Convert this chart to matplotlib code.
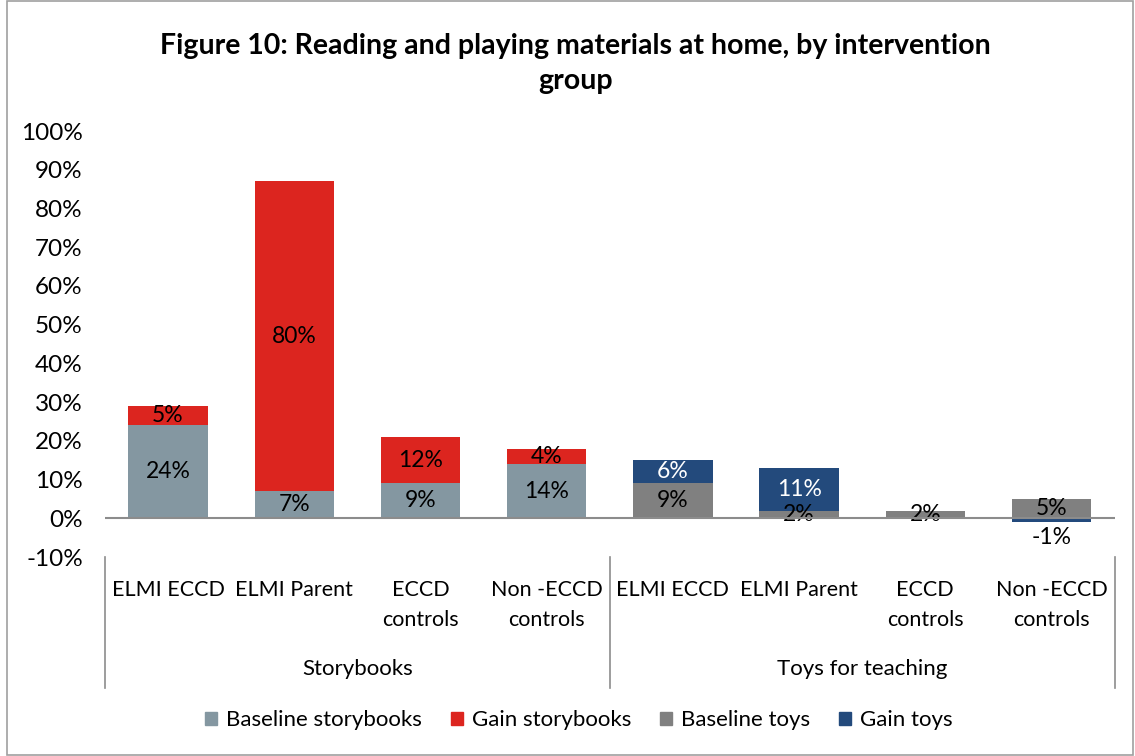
import numpy as np
import matplotlib.pyplot as plt
from matplotlib.patches import Rectangle
from matplotlib.lines import Line2D

plt.rcParams['font.family'] = ['Lato', 'DejaVu Sans']

categories = [['ELMI ECCD'], ['ELMI Parent'], ['ECCD', 'controls'], ['Non -ECCD', 'controls']]
groups = ['Storybooks', 'Toys for teaching']
base_books = [24, 7, 9, 14]
gain_books = [5, 80, 12, 4]
base_toys = [9, 2, 2, 5]
gain_toys = [6, 11, 0, -1]

c_base_books = '#8497A1'
c_gain_books = '#DC251F'
c_base_toys = '#808080'
c_gain_toys = '#234A7C'

fig = plt.figure(figsize=(11.35, 7.56), dpi=100)
ax = fig.add_axes([0.0925, 0.2632, 0.8895, 0.5635])

x_books = np.arange(4)
x_toys = np.arange(4, 8)
w = 0.63

def stack(x, base, gain, cb, cg):
    base = np.array(base, dtype=float)
    gain = np.array(gain, dtype=float)
    bottom = np.where(gain >= 0, base, 0)
    ax.bar(x, base, w, color=cb, zorder=2)
    ax.bar(x, gain, w, bottom=bottom, color=cg, zorder=2)
    return base, gain, bottom

bb, gb, btb = stack(x_books, base_books, gain_books, c_base_books, c_gain_books)
bt, gt, btt = stack(x_toys, base_toys, gain_toys, c_base_toys, c_gain_toys)

fs = 17.5
fl = 16.5
for xi, v in zip(x_books, bb):
    ax.text(xi, v / 2, f'{v:.0f}%', ha='center', va='center', fontsize=fl, zorder=3)
for xi, v, b in zip(x_books, gb, btb):
    ax.text(xi, b + v / 2, f'{v:.0f}%', ha='center', va='center', fontsize=fl, zorder=3)
for xi, v in zip(x_toys, bt):
    ax.text(xi, v / 2, f'{v:.0f}%', ha='center', va='center', fontsize=fl, zorder=3)
for xi, v, b in zip(x_toys, gt, btt):
    if v > 0:
        ax.text(xi, b + v / 2, f'{v:.0f}%', ha='center', va='center', fontsize=fl,
                color='white', zorder=3)
    elif v < 0:
        ax.text(xi, v - 4, f'{v:.0f}%', ha='center', va='center', fontsize=fl, zorder=3)

ax.set_xlim(-0.5, 7.5)
ax.set_ylim(-10, 100)
ax.set_yticks(np.arange(-10, 101, 10))
ax.set_yticklabels([f'{t}%' for t in range(-10, 101, 10)], fontsize=fs)
ax.tick_params(axis='y', length=0, pad=16)
ax.set_xticks([])
for s in ax.spines.values():
    s.set_visible(False)
ax.axhline(0, color='#8C8C8C', lw=1.5, zorder=4)

xt = ax.get_xaxis_transform()
for xi, lines in zip(range(8), categories * 2):
    for li, line in enumerate(lines):
        ax.text(xi, -0.0775 - 0.0705 * li, line, transform=xt, ha='center', va='center',
                fontsize=15.5)
for gi, g in enumerate(groups):
    ax.text(1.5 + 4 * gi, -0.263, g, transform=xt, ha='center', va='center', fontsize=16)
for xs in [-0.5, 3.5, 7.5]:
    ax.add_line(Line2D([xs, xs], [0, -0.307], transform=xt, color='#8C8C8C', lw=1.2,
                       clip_on=False))

fig.text(0.507, 0.916, 'Figure 10: Reading and playing materials at home, by intervention\ngroup',
         ha='center', va='center', fontsize=20.5, fontweight='bold', linespacing=1.4)

handles = [Rectangle((0, 0), 1, 1, color=c) for c in
           [c_base_books, c_gain_books, c_base_toys, c_gain_toys]]
fig.legend(handles, ['Baseline storybooks', 'Gain storybooks', 'Baseline toys', 'Gain toys'],
           loc='center', bbox_to_anchor=(0.51, 0.047), ncol=4, frameon=False, fontsize=16,
           handlelength=0.55, handleheight=0.55, handletextpad=0.4, columnspacing=1.3)

fig.add_artist(Rectangle((0.006, 0.001), 0.992, 0.998, transform=fig.transFigure,
                         fill=False, edgecolor='#A0A0A0', lw=1.2))

fig.savefig('out.png', dpi=100)
